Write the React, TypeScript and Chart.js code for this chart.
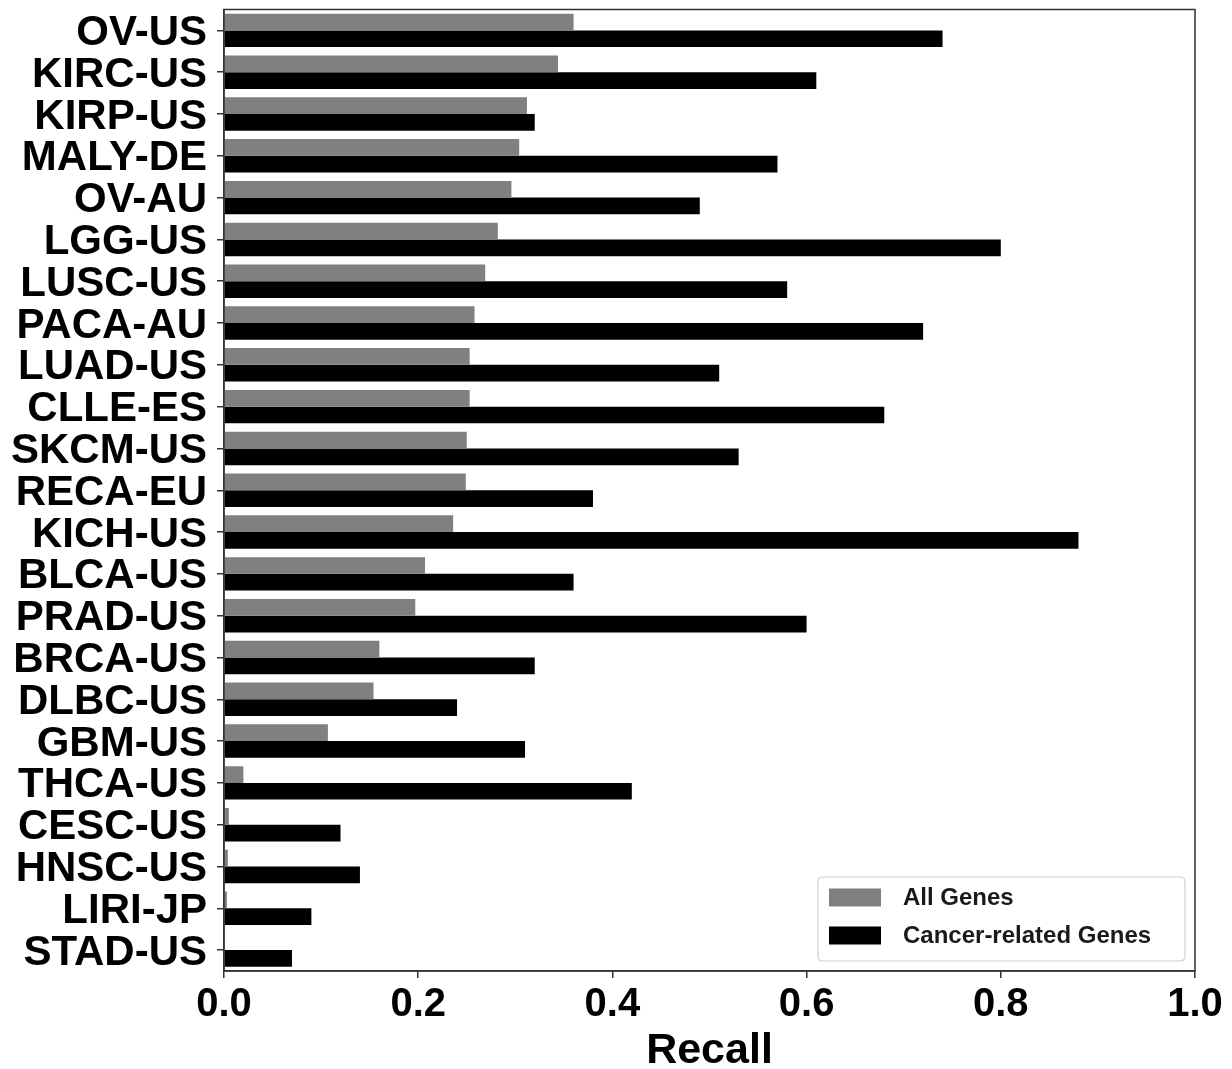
import React, { useEffect, useRef } from 'react';
import { Chart, registerables } from 'chart.js';

Chart.register(...registerables);

const categories = [
  'OV-US', 'KIRC-US', 'KIRP-US', 'MALY-DE', 'OV-AU', 'LGG-US', 'LUSC-US', 'PACA-AU',
  'LUAD-US', 'CLLE-ES', 'SKCM-US', 'RECA-EU', 'KICH-US', 'BLCA-US', 'PRAD-US', 'BRCA-US',
  'DLBC-US', 'GBM-US', 'THCA-US', 'CESC-US', 'HNSC-US', 'LIRI-JP', 'STAD-US',
];

const allGenes = [
  0.36, 0.344, 0.312, 0.304, 0.296, 0.282, 0.269, 0.258,
  0.253, 0.253, 0.25, 0.249, 0.236, 0.207, 0.197, 0.16,
  0.154, 0.107, 0.02, 0.005, 0.004, 0.003, 0.001,
];

const cancerGenes = [
  0.74, 0.61, 0.32, 0.57, 0.49, 0.8, 0.58, 0.72,
  0.51, 0.68, 0.53, 0.38, 0.88, 0.36, 0.6, 0.32,
  0.24, 0.31, 0.42, 0.12, 0.14, 0.09, 0.07,
];

const xTicks = [0, 0.2, 0.4, 0.6, 0.8, 1.0];

const FONT = "'Liberation Sans', Arial, Helvetica, sans-serif";

const framePlugin = {
  id: 'frame',
  afterDatasetsDraw(chart: any) {
    const { ctx, chartArea } = chart;
    const { left, top, right, bottom } = chartArea;
    ctx.save();
    ctx.strokeStyle = '#333';
    ctx.lineWidth = 1.5;
    ctx.strokeRect(left, top, right - left, bottom - top);
    ctx.restore();
  },
};

const legendPlugin = {
  id: 'boxLegend',
  afterDraw(chart: any) {
    const { ctx, chartArea } = chart;
    const bx = chartArea.right - 377;
    const by = chartArea.bottom - 94;
    const bw = 367;
    const bh = 84;
    ctx.save();
    ctx.beginPath();
    const r = 5;
    ctx.moveTo(bx + r, by);
    ctx.lineTo(bx + bw - r, by);
    ctx.quadraticCurveTo(bx + bw, by, bx + bw, by + r);
    ctx.lineTo(bx + bw, by + bh - r);
    ctx.quadraticCurveTo(bx + bw, by + bh, bx + bw - r, by + bh);
    ctx.lineTo(bx + r, by + bh);
    ctx.quadraticCurveTo(bx, by + bh, bx, by + bh - r);
    ctx.lineTo(bx, by + r);
    ctx.quadraticCurveTo(bx, by, bx + r, by);
    ctx.closePath();
    ctx.fillStyle = 'rgba(255,255,255,0.85)';
    ctx.fill();
    ctx.strokeStyle = '#d0d0d0';
    ctx.lineWidth = 1.2;
    ctx.stroke();

    const rows = [by + 20.5, by + 58.5];
    chart.data.datasets.forEach((ds: any, i: number) => {
      const cy = rows[i];
      ctx.fillStyle = ds.backgroundColor;
      ctx.fillRect(bx + 11, cy - 9, 52, 18);
      ctx.fillStyle = '#1a1a1a';
      ctx.font = `bold 24px ${FONT}`;
      ctx.textBaseline = 'middle';
      ctx.textAlign = 'left';
      ctx.fillText(ds.label, bx + 85, cy + 1);
    });
    ctx.restore();
  },
};

export default function App() {
  const ref = useRef<HTMLCanvasElement>(null);

  useEffect(() => {
    if (!ref.current) return;
    const chart = new Chart(ref.current, {
      type: 'bar',
      data: {
        labels: categories,
        datasets: [
          {
            label: 'All Genes',
            data: allGenes,
            backgroundColor: '#808080',
            borderWidth: 0,
            categoryPercentage: 0.8,
            barPercentage: 1.0,
          },
          {
            label: 'Cancer-related Genes',
            data: cancerGenes,
            backgroundColor: '#000000',
            borderWidth: 0,
            categoryPercentage: 0.8,
            barPercentage: 1.0,
          },
        ],
      },
      options: {
        indexAxis: 'y',
        responsive: false,
        animation: false,
        devicePixelRatio: 1,
        layout: { padding: { top: 9.5, right: 37, bottom: 0, left: 0 } },
        plugins: {
          legend: { display: false },
          tooltip: { enabled: false },
        },
        scales: {
          x: {
            type: 'linear',
            min: 0,
            max: 1,
            afterBuildTicks: (scale: any) => {
              scale.ticks = xTicks.map((v) => ({ value: v }));
            },
            ticks: {
              color: '#000',
              font: { family: FONT, size: 40, weight: 'bold' },
              padding: 3,
              callback: (v: any) => Number(v).toFixed(1),
            },
            grid: {
              display: true,
              drawOnChartArea: false,
              drawTicks: true,
              tickLength: 7,
              color: '#333',
              lineWidth: 1.5,
            },
            border: { display: true, color: '#333', width: 1.5 },
            title: {
              display: true,
              text: 'Recall',
              color: '#000',
              font: { family: FONT, size: 43, weight: 'bold', lineHeight: 1.0 },
              padding: { top: 0, bottom: -4 },
            },
            afterFit: (scale: any) => {
              scale.height = 98;
              scale.paddingLeft = 0;
              scale.paddingRight = 0;
            },
          },
          y: {
            type: 'category',
            ticks: {
              color: '#000',
              font: { family: FONT, size: 42, weight: 'bold' },
              padding: 10,
              labelOffset: 3,
              autoSkip: false,
            },
            grid: {
              display: true,
              offset: false,
              drawOnChartArea: false,
              drawTicks: true,
              tickLength: 7,
              color: '#333',
              lineWidth: 1.5,
            },
            border: { display: true, color: '#333', width: 1.5 },
            afterFit: (scale: any) => {
              scale.width = 224;
              scale.paddingTop = 0;
              scale.paddingBottom = 0;
            },
          },
        },
      },
      plugins: [framePlugin, legendPlugin],
    } as any);
    return () => chart.destroy();
  }, []);

  return (
    <div style={{ position: 'absolute', left: 0, top: 0, width: 1232, height: 1069, background: '#fff' }}>
      <canvas ref={ref} width={1232} height={1069} style={{ display: 'block' }} />
    </div>
  );
}
